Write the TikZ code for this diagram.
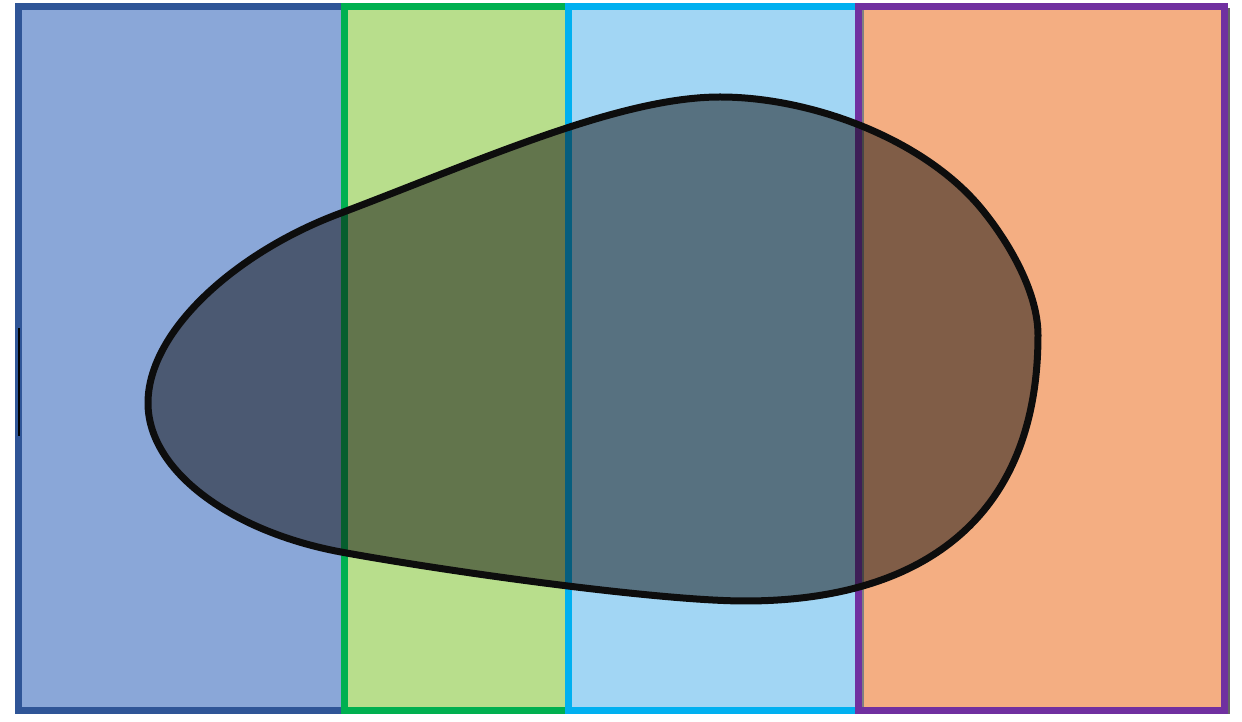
\documentclass[tikz,border=0pt]{standalone}
\usepackage{tikz}
\usetikzlibrary{calc}

\definecolor{zoneAline}{HTML}{2F5597}
\definecolor{zoneAfill}{HTML}{8AA7D8}
\definecolor{zoneBline}{HTML}{00B050}
\definecolor{zoneBfill}{HTML}{B8DE8C}
\definecolor{zoneCline}{HTML}{00B0F0}
\definecolor{zoneCfill}{HTML}{A2D6F4}
\definecolor{zoneDline}{HTML}{7030A0}
\definecolor{zoneDfill}{HTML}{F4AE82}
\definecolor{blobline}{HTML}{0D0D0D}

\tikzset{
  zone/.style={line width=0.14cm},
  blob/.style={line width=0.14cm, draw=blobline, fill=blobline, fill opacity=0.5}
}

\begin{document}
\begin{tikzpicture}[x=0.02cm, y=-0.02cm]
			\useasboundingbox (0,0) rectangle (1242,722);
			
			% Four vertical zones
			\draw[zone, draw=zoneAline, fill=zoneAfill] (18.5,6.5) rectangle (344.5,710.5);
			\draw[zone, draw=zoneBline, fill=zoneBfill] (344.5,6.5) rectangle (568.5,710.5);
			\draw[zone, draw=zoneCline, fill=zoneCfill] (568.5,6.5) rectangle (858.5,710.5);
			\draw[zone, draw=zoneDline, fill=zoneDfill] (858.5,6.5) rectangle (1224.5,710.5);
			
			% Shadow edges
			\draw[line width=0.04cm, gray] (863,10) -- (863,707);
			\draw[line width=0.04cm, gray!80!black] (1229,8) -- (1229,714);
			\draw[line width=0.04cm, black] (19,328) -- (19,436);
			
			% Blob over the zones
			\coordinate (left) at (148,403);
			\coordinate (top) at (720,97);
			\coordinate (right) at (1038,335);
			\coordinate (bottom) at (745,601);
			\draw[blob] (left)
				.. controls (148,330) and (238,251) .. (341,213)
				.. controls (481,160) and (620,97) .. (top)
				.. controls (810,97) and (922,138) .. (980,207)
				.. controls (1006,238) and (1038,290) .. (right)
				.. controls (1038,520) and (920,601) .. (bottom)
				.. controls (660,601) and (450,572) .. (341,552)
				.. controls (233,532) and (148,472) .. cycle;
		\end{tikzpicture}
\end{document}
